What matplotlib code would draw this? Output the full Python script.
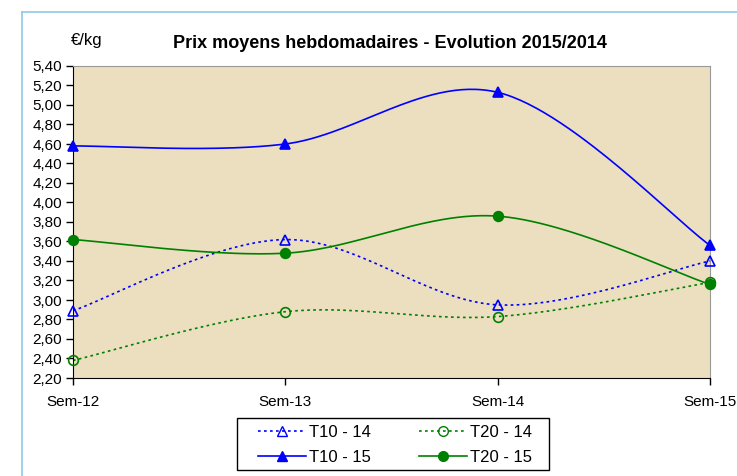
import numpy as np
import matplotlib.pyplot as plt
from matplotlib.lines import Line2D
from matplotlib.patches import Rectangle

plt.rcParams['font.family'] = ['Liberation Sans', 'DejaVu Sans']

# données
semaines = ["Sem-12", "Sem-13", "Sem-14", "Sem-15"]
t10_14 = [2.89, 3.62, 2.95, 3.40]
t20_14 = [2.38, 2.88, 2.83, 3.18]
t10_15 = [4.58, 4.60, 5.13, 3.56]
t20_15 = [3.62, 3.48, 3.86, 3.16]
yticks = np.arange(2.2, 5.41, 0.2)


# courbe lissée façon Excel (Catmull-Rom -> Bézier)
def lisser(y, n=60):
    x = np.arange(len(y), dtype=float)
    y = np.asarray(y, dtype=float)
    px = np.concatenate([[x[0]], x, [x[-1]]])
    py = np.concatenate([[y[0]], y, [y[-1]]])
    xs, ys = [], []
    t = np.linspace(0, 1, n)
    for i in range(1, len(px) - 2):
        p0 = np.array([px[i], py[i]])
        p3 = np.array([px[i + 1], py[i + 1]])
        p1 = p0 + (np.array([px[i + 1], py[i + 1]]) - np.array([px[i - 1], py[i - 1]])) / 6
        p2 = p3 - (np.array([px[i + 2], py[i + 2]]) - np.array([px[i], py[i]])) / 6
        b = ((1 - t) ** 3)[:, None] * p0 + (3 * (1 - t) ** 2 * t)[:, None] * p1 \
            + (3 * (1 - t) * t ** 2)[:, None] * p2 + (t ** 3)[:, None] * p3
        xs.append(b[:, 0])
        ys.append(b[:, 1])
    return np.concatenate(xs), np.concatenate(ys)


fig = plt.figure(figsize=(7.37, 4.76), dpi=100)
ax = fig.add_axes([73 / 737, 1 - 378 / 476, (710 - 73) / 737, (378 - 66) / 476])
ax.set_facecolor("#ECDFC0")

dot = (0, (1.6, 2.0))
series = [
    (t10_14, "blue", dot, "^", "none", "T10 - 14"),
    (t20_14, "green", dot, "o", "none", "T20 - 14"),
    (t10_15, "blue", "-", "^", "blue", "T10 - 15"),
    (t20_15, "green", "-", "o", "green", "T20 - 15"),
]
xpos = np.arange(len(semaines))
for vals, col, ls, mk, fc, lab in series:
    sx, sy = lisser(vals)
    ax.plot(sx, sy, color=col, linestyle=ls, lw=1.2)
    ax.plot(xpos, vals, linestyle="none", marker=mk, markersize=7,
            markerfacecolor=fc, markeredgecolor=col, markeredgewidth=1.2, clip_on=False, zorder=5)

ax.set_xlim(0, 3)
ax.set_ylim(2.2, 5.4)
ax.set_yticks(yticks)
ax.set_yticklabels([f"{v:.2f}".replace(".", ",") for v in yticks])
ax.set_xticks(xpos)
ax.set_xticklabels(semaines)
ax.tick_params(axis="both", direction="out", length=5, width=1, labelsize=11, colors="black")
ax.tick_params(axis="x", pad=7)
ax.tick_params(axis="y", pad=3)
for s in ["top", "right"]:
    ax.spines[s].set_color("#999999")
for s in ["left", "bottom"]:
    ax.spines[s].set_color("black")

fig.text(390 / 737, 1 - 43 / 476, "Prix moyens hebdomadaires - Evolution 2015/2014",
         ha="center", va="center", fontsize=13, fontweight="bold")
fig.text(71 / 737, 1 - 41 / 476, "€/kg", ha="left", va="center", fontsize=12)

handles = [
    Line2D([], [], color="blue", ls=dot, marker="^", mfc="none", mec="blue", ms=7, lw=1.2),
    Line2D([], [], color="blue", ls="-", marker="^", mfc="blue", mec="blue", ms=7, lw=1.2),
    Line2D([], [], color="green", ls=dot, marker="o", mfc="none", mec="green", ms=7, lw=1.2),
    Line2D([], [], color="green", ls="-", marker="o", mfc="green", mec="green", ms=7, lw=1.2),
]
labels = ["T10 - 14", "T10 - 15", "T20 - 14", "T20 - 15"]
leg = fig.legend(handles, labels, ncol=2, loc="center", bbox_to_anchor=(395 / 737, 1 - 445 / 476),
                 frameon=False, fontsize=12,
                 handlelength=2.9, columnspacing=2.9, handletextpad=0.15, labelspacing=0.6)

# cadre de la légende
fig.add_artist(Rectangle((237 / 737, 1 - 470 / 476), 312 / 737, 52 / 476,
                         transform=fig.transFigure, fill=False, edgecolor="black", lw=1))

# cadre bleu clair
fig.add_artist(Line2D([22 / 737, 1], [1 - 12 / 476] * 2, color="#8ECAE8", lw=1.2))
fig.add_artist(Line2D([22 / 737] * 2, [0, 1 - 12 / 476], color="#8ECAE8", lw=1.2))

plt.savefig("out.png", dpi=100)
